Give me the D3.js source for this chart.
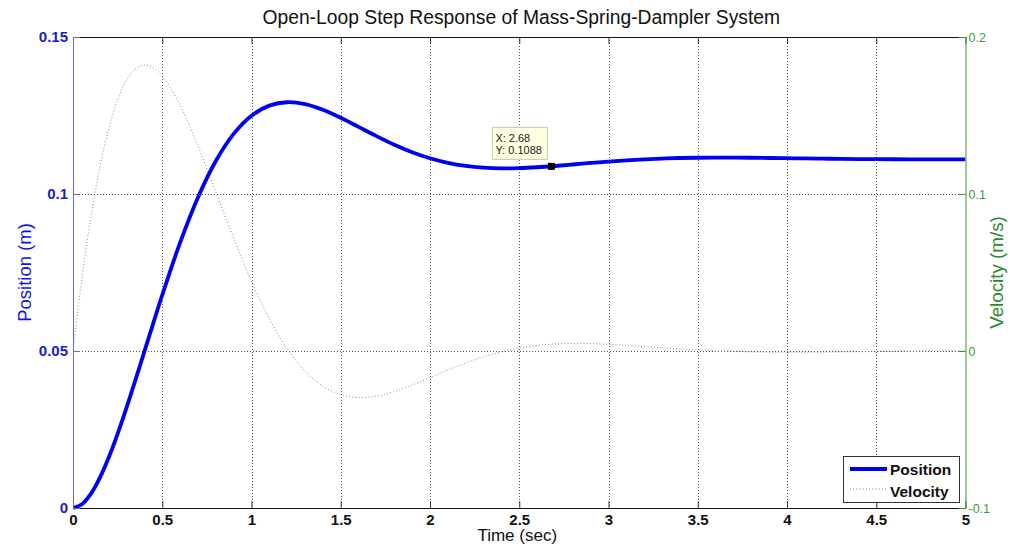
<!DOCTYPE html>
<html>
<head>
<meta charset="utf-8">
<script src="https://cdn.jsdelivr.net/npm/d3@7"></script>
<style>
  html, body { margin: 0; padding: 0; background: #ffffff; }
  svg { display: block; font-family: "Liberation Sans", Arial, Helvetica, sans-serif; }
</style>
</head>
<body>
<svg id="chart" width="1010" height="550"></svg>
<script>
// Sampled step response: 0.05 s steps over the first half second, 0.1 s after that
const time = [0.00,0.05,0.10,0.15,0.20,0.25,0.30,0.35,0.40,0.45,0.5,0.6,0.7,0.8,0.9,
              1.0,1.1,1.2,1.3,1.4,1.5,1.6,1.7,1.8,1.9,
              2.0,2.1,2.2,2.3,2.4,2.5,2.6,2.7,2.8,2.9,
              3.0,3.1,3.2,3.3,3.4,3.5,3.6,3.7,3.8,3.9,
              4.0,4.1,4.2,4.3,4.4,4.5,4.6,4.7,4.8,4.9,5.0];

// Position (m)
const position = [0.00000,0.00119,0.00450,0.00958,0.01607,0.02363,0.03197,0.04079,0.04986,0.05893,
                  0.06783,0.08449,0.09889,0.11050,0.11914,
                  0.12493,0.12815,0.12922,0.12862,0.12682,0.12427,0.12137,0.11843,0.11569,0.11330,
                  0.11137,0.10991,0.10893,0.10837,0.10816,0.10824,0.10852,0.10892,0.10939,0.10988,
                  0.11033,0.11072,0.11104,0.11129,0.11146,0.11155,0.11159,0.11158,0.11154,0.11147,
                  0.11140,0.11132,0.11125,0.11118,0.11113,0.11109,0.11106,0.11104,0.11103,0.11103,0.11104];

// Velocity (m/s)
const velocity = [0.00000,0.04626,0.08511,0.11677,0.14158,0.15999,0.17246,0.17967,0.18211,0.18038,
                  0.17514,0.15648,0.13058,0.10131,0.07182,
                  0.04441,0.02069,0.00152,-0.01280,-0.02242,-0.02782,-0.02967,-0.02875,-0.02585,-0.02171,
                  -0.01696,-0.01214,-0.00763,-0.00370,-0.00050,0.00191,0.00354,0.00448,0.00483,0.00472,
                  0.00427,0.00361,0.00284,0.00205,0.00131,0.00066,0.00013,-0.00028,-0.00056,-0.00072,
                  -0.00079,-0.00077,-0.00070,-0.00060,-0.00048,-0.00035,-0.00022,-0.00012,-0.00003,0.00004,0.00009];

// Axis ticks
const timeTicks = [0, 0.5, 1, 1.5, 2, 2.5, 3, 3.5, 4, 4.5, 5];
const timeTickLabels = ["0", "0.5", "1", "1.5", "2", "2.5", "3", "3.5", "4", "4.5", "5"];
const posTicks = [0, 0.05, 0.1, 0.15];
const posTickLabels = ["0", "0.05", "0.1", "0.15"];
const velTicks = [-0.1, 0, 0.1, 0.2];
const velTickLabels = ["-0.1", "0", "0.1", "0.2"];

// Data tip on the position curve
const tipPoint = { t: 2.68, y: 0.1088 };

const plot = { left: 73, right: 965.5, top: 37, bottom: 508 };

const svg = d3.select("#chart");

const x = d3.scaleLinear().domain([0, 5]).range([plot.left, plot.right]);
const yL = d3.scaleLinear().domain([0, 0.15]).range([plot.bottom, plot.top]);
const yR = d3.scaleLinear().domain([-0.1, 0.2]).range([plot.bottom, plot.top]);

const blue = "#0000f0";
const axisBlue = "#1c1cc8";
const velColor = "#4f944f";

svg.append("defs").append("clipPath").attr("id", "plotClip")
  .append("rect")
  .attr("x", plot.left).attr("y", plot.top - 2)
  .attr("width", plot.right - plot.left).attr("height", plot.bottom - plot.top + 4);

// Grid
const grid = svg.append("g").attr("class", "grid")
  .attr("stroke", "#555").attr("stroke-width", 1).attr("stroke-dasharray", "1,2");
grid.selectAll("line.v").data(timeTicks.slice(1, -1)).join("line")
  .attr("class", "v")
  .attr("x1", d => Math.round(x(d)) + 0.5).attr("x2", d => Math.round(x(d)) + 0.5)
  .attr("y1", plot.top).attr("y2", plot.bottom);
grid.selectAll("line.h").data(posTicks.slice(1, -1)).join("line")
  .attr("class", "h")
  .attr("y1", d => Math.round(yL(d)) + 0.5).attr("y2", d => Math.round(yL(d)) + 0.5)
  .attr("x1", plot.left).attr("x2", plot.right);

// Curves
const lines = svg.append("g").attr("clip-path", "url(#plotClip)");

const velLine = d3.line()
  .x((d, i) => x(time[i]))
  .y(d => yR(d))
  .curve(d3.curveCatmullRom.alpha(0.5));
lines.append("path")
  .datum(velocity)
  .attr("d", velLine)
  .attr("fill", "none")
  .attr("stroke", velColor)
  .attr("stroke-width", 1)
  .attr("stroke-dasharray", "1,2.2")
  .attr("opacity", 0.85);

const posLine = d3.line()
  .x((d, i) => x(time[i]))
  .y(d => yL(d))
  .curve(d3.curveCatmullRom.alpha(0.5));
lines.append("path")
  .datum(position)
  .attr("d", posLine)
  .attr("fill", "none")
  .attr("stroke", blue)
  .attr("stroke-width", 3.8)
  .attr("stroke-linejoin", "round");

// Axes (ticks point inward)
const bottomAxis = d3.axisBottom(x).tickValues(timeTicks)
  .tickFormat((d, i) => timeTickLabels[i])
  .tickSizeInner(-7).tickSizeOuter(0).tickPadding(6);
const gB = svg.append("g").attr("transform", `translate(0,${plot.bottom})`).call(bottomAxis);
gB.select(".domain").attr("stroke", "#111");
gB.selectAll(".tick line").attr("stroke", "#333");
gB.selectAll("text").attr("fill", "#111").attr("font-size", 15).attr("font-weight", "bold");

const topAxis = d3.axisTop(x).tickValues(timeTicks).tickFormat("")
  .tickSizeInner(-7).tickSizeOuter(0);
const gT = svg.append("g").attr("transform", `translate(0,${plot.top})`).call(topAxis);
gT.select(".domain").attr("stroke", "#111");
gT.selectAll(".tick line").attr("stroke", "#333");

const leftAxis = d3.axisLeft(yL).tickValues(posTicks)
  .tickFormat((d, i) => posTickLabels[i])
  .tickSizeInner(-7).tickSizeOuter(0).tickPadding(5);
const gL = svg.append("g").attr("transform", `translate(${plot.left},0)`).call(leftAxis);
gL.select(".domain").attr("stroke", "#6a6ab8");
gL.selectAll(".tick line").attr("stroke", "#6a6ab8");
gL.selectAll("text").attr("fill", axisBlue).attr("font-size", 15).attr("font-weight", "bold");

const rightAxis = d3.axisRight(yR).tickValues(velTicks)
  .tickFormat((d, i) => velTickLabels[i])
  .tickSizeInner(-7).tickSizeOuter(0).tickPadding(3);
const gR = svg.append("g").attr("transform", `translate(${plot.right},0)`).call(rightAxis);
gR.select(".domain").attr("stroke", "#3c963c");
gR.selectAll(".tick line").attr("stroke", "#3c963c");
gR.selectAll("text").attr("fill", "#3f9a3f").attr("font-size", 12.5);

// Titles and axis labels
svg.append("text")
  .attr("x", (plot.left + plot.right) / 2 + 2).attr("y", 24)
  .attr("text-anchor", "middle")
  .attr("font-size", 19.3).attr("fill", "#111")
  .text("Open-Loop Step Response of Mass-Spring-Dampler System");

svg.append("text")
  .attr("x", (plot.left + plot.right) / 2 - 2).attr("y", 541)
  .attr("text-anchor", "middle")
  .attr("font-size", 17).attr("fill", "#111")
  .text("Time (sec)");

svg.append("text")
  .attr("transform", `translate(31,${(plot.top + plot.bottom) / 2}) rotate(-90)`)
  .attr("text-anchor", "middle")
  .attr("font-size", 18.5).attr("fill", "#1010e8")
  .text("Position (m)");

svg.append("text")
  .attr("transform", `translate(1003,${(plot.top + plot.bottom) / 2}) rotate(-90)`)
  .attr("text-anchor", "middle")
  .attr("font-size", 18.8).attr("fill", "#2a8a2a")
  .text("Velocity (m/s)");

// Data tip
const tx = x(tipPoint.t), ty = yL(tipPoint.y);
const tip = svg.append("g");
tip.append("rect")
  .attr("x", tx - 59).attr("y", ty - 39)
  .attr("width", 55).attr("height", 32)
  .attr("fill", "#ffffe1").attr("stroke", "#c8c8a8").attr("stroke-width", 1);
tip.append("text")
  .attr("x", tx - 56).attr("y", ty - 24)
  .attr("font-size", 11).attr("fill", "#222")
  .text(`X: ${tipPoint.t}`);
tip.append("text")
  .attr("x", tx - 56).attr("y", ty - 12)
  .attr("font-size", 11).attr("fill", "#222")
  .text(`Y: ${tipPoint.y}`);
tip.append("rect")
  .attr("x", tx - 3.5).attr("y", ty - 3.5)
  .attr("width", 7).attr("height", 7)
  .attr("fill", "#000");

// Legend
const legend = svg.append("g");
legend.append("rect")
  .attr("x", 843.5).attr("y", 456.5).attr("width", 116).attr("height", 46)
  .attr("fill", "#fff").attr("stroke", "#333").attr("stroke-width", 1);
legend.append("line")
  .attr("x1", 850).attr("x2", 887).attr("y1", 469).attr("y2", 469)
  .attr("stroke", blue).attr("stroke-width", 3.8);
legend.append("line")
  .attr("x1", 850).attr("x2", 887).attr("y1", 489).attr("y2", 489)
  .attr("stroke", velColor).attr("stroke-width", 1).attr("stroke-dasharray", "1,2.2");
legend.append("text")
  .attr("x", 890).attr("y", 474.5)
  .attr("font-size", 15.5).attr("font-weight", "bold").attr("fill", "#111")
  .text("Position");
legend.append("text")
  .attr("x", 890).attr("y", 497)
  .attr("font-size", 15.5).attr("font-weight", "bold").attr("fill", "#111")
  .text("Velocity");
</script>
</body>
</html>
